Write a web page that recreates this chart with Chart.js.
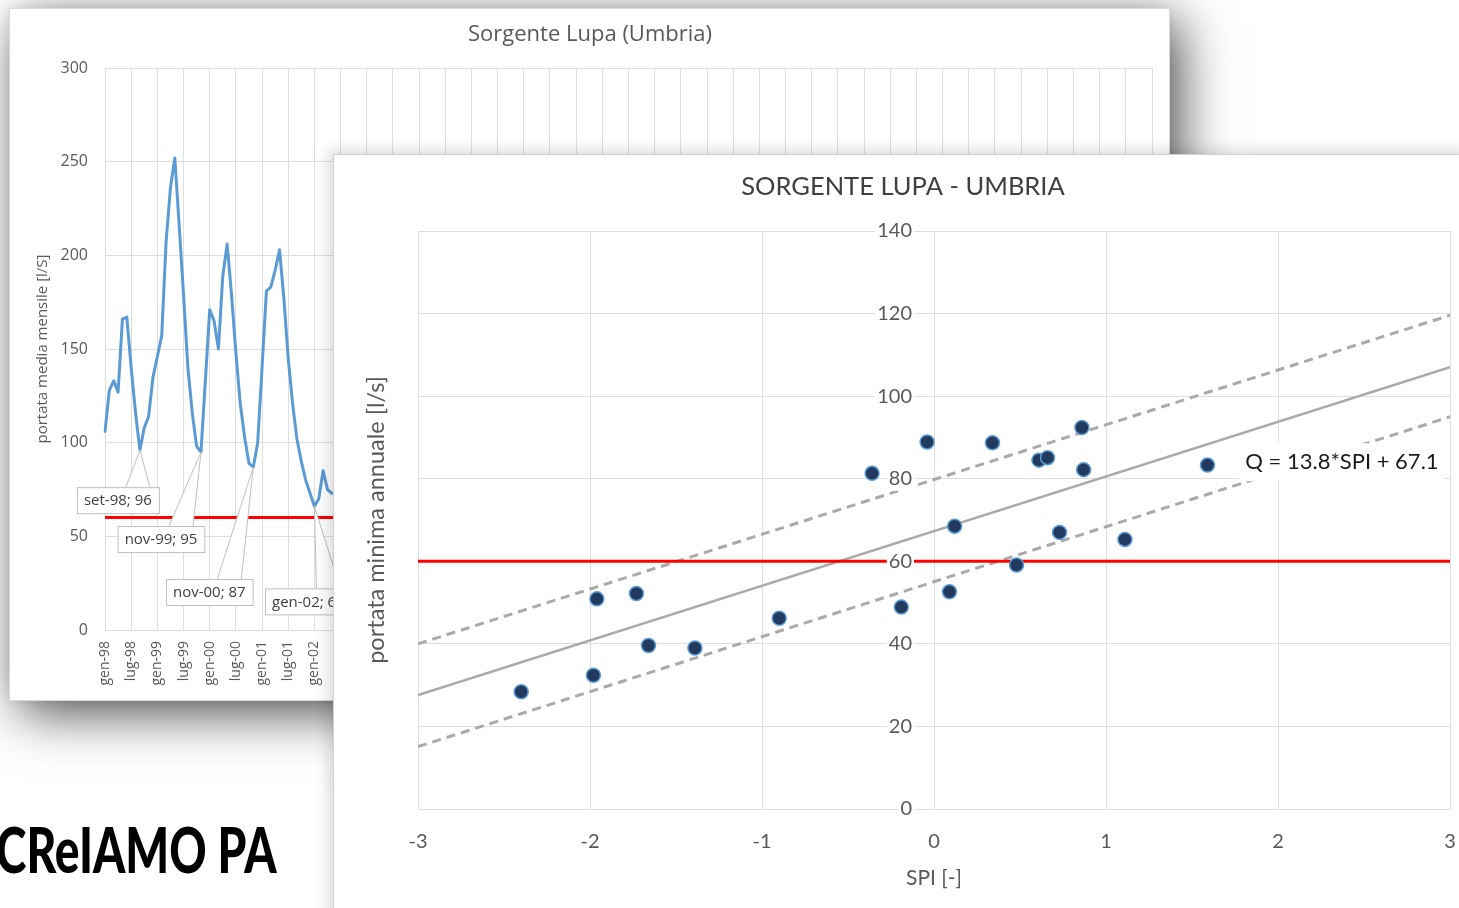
<!DOCTYPE html>
<html lang="it">
<head>
<meta charset="utf-8">
<title>Sorgente Lupa</title>
<script src="https://cdn.jsdelivr.net/npm/chart.js@4.4.1/dist/chart.umd.min.js"></script>
<style>
  html, body { margin: 0; padding: 0; background: #fff; }
  body { width: 1459px; height: 908px; overflow: hidden; position: relative; }
  #back {
    position: absolute; left: 10px; top: 9px; width: 1159px; height: 691px;
    background: #fff; outline: 1px solid #d9d9d9;
    box-shadow: 10px 12px 50px rgba(0,0,0,0.72), 0 0 10px rgba(0,0,0,0.08);
  }
  #front {
    position: absolute; left: 334px; top: 155px; width: 1140px; height: 770px;
    background: #fff; outline: 1px solid #d0d0d0;
    box-shadow: -5px -4px 14px rgba(0,0,0,0.16);
  }
  canvas { position: absolute; left: 0; top: 0; }
  #logo {
    position: absolute; left: -4px; top: 818px; margin: 0;
    font-family: Lato, sans-serif; font-weight: 900; font-size: 62px; line-height: 1;
    color: #000; transform: scaleX(0.744); transform-origin: 0 0; white-space: nowrap;
  }
</style>
</head>
<body>
<div id="back"><canvas id="cBack" width="1159" height="691"></canvas></div>
<div id="logo">CReIAMO PA</div>
<div id="front"><canvas id="cFront" width="1140" height="760"></canvas></div>

<script>
// --- grafico dietro: portata media mensile ---
const mesi = ['gen','feb','mar','apr','mag','giu','lug','ago','set','ott','nov','dic'];
const mesiLabels = [];
for (let a = 1998; a <= 2018; a++) {
  for (let m = 0; m < 12; m++) {
    if (mesiLabels.length < 241) mesiLabels.push(mesi[m] + '-' + String(a).slice(2));
  }
}
// valori (gen-98 .. mag-02), il resto e' coperto
const portataMensile = [106, 128, 133, 127, 166, 167, 140, 116, 96, 108, 114, 135,
                        146, 157, 207, 236, 252, 216, 179, 140, 116, 98, 95, 133,
                        171, 165, 150, 189, 206, 179, 148, 121, 103, 89, 87, 100,
                        140, 181, 183, 192, 203, 177, 145, 121, 102, 90, 80, 73,
                        66, 70, 85, 75, 73];
const sogliaBack = 60;
const calloutMesi = [8, 22, 34, 48];

// --- grafico davanti: portata minima annuale vs SPI ---
const spi  = [-2.40, -1.98, -1.96, -1.73, -1.66, -1.39, -0.90, -0.36, -0.19, -0.04, 0.09,
               0.12,  0.34,  0.48,  0.61,  0.66,  0.73,  0.86,  0.87,  1.11,  1.59];
const qmin = [28.4, 32.4, 50.9, 52.2, 39.6, 39.0, 46.2, 81.3, 48.9, 88.9, 52.6,
              68.5, 88.7, 59.1, 84.5, 85.1, 67.0, 92.4, 82.2, 65.3, 83.3];
const rettaX  = [-3, 3];
const rettaY  = [27.6, 107.0];
const limSupY = [40.0, 119.6];
const limInfY = [15.1, 95.0];
const sogliaFront = 60;
const equazione = 'Q = 13.8*SPI + 67.1';

const grigioTesto = '#595959';
const grigioGriglia = '#dedede';
const grigioRetta = '#aaaaaa';

// callout tipo Excel (etichette dati)
const calloutPlugin = {
  id: 'callouts',
  afterDatasetsDraw(chart, args, opts) {
    const ctx = chart.ctx;
    const meta = chart.getDatasetMeta(0);
    ctx.save();
    ctx.font = '15px "Open Sans"';
    calloutMesi.forEach((idx, k) => {
      const pt = meta.data[idx];
      if (!pt) return;
      const text = mesiLabels[idx] + '; ' + portataMensile[idx];
      const w = ctx.measureText(text).width + 14, h = 26;
      const cx = pt.x + opts.dx[k], cy = pt.y + opts.dy[k];
      const top = cy - h / 2;
      // punta
      ctx.beginPath();
      ctx.moveTo(cx + 8, top);
      ctx.lineTo(pt.x, pt.y);
      ctx.lineTo(cx + 32, top);
      ctx.closePath();
      ctx.fillStyle = '#fff';
      ctx.fill();
      ctx.beginPath();
      ctx.moveTo(cx + 8, top);
      ctx.lineTo(pt.x, pt.y);
      ctx.lineTo(cx + 32, top);
      ctx.strokeStyle = '#bfbfbf';
      ctx.lineWidth = 1;
      ctx.stroke();
      // riquadro
      ctx.fillRect(cx - w / 2, top, w, h);
      ctx.strokeRect(cx - w / 2 + 0.5, top + 0.5, w, h);
      ctx.fillStyle = '#404040';
      ctx.textAlign = 'center';
      ctx.textBaseline = 'middle';
      ctx.fillText(text, cx, cy + 1);
    });
    ctx.restore();
  }
};

// equazione della retta con fondo bianco
const equazionePlugin = {
  id: 'equazione',
  afterDatasetsDraw(chart, args, opts) {
    const ctx = chart.ctx;
    const x = chart.scales.x.getPixelForValue(opts.x);
    const y = chart.scales.y.getPixelForValue(opts.y);
    ctx.save();
    ctx.font = '22px Lato';
    const w = ctx.measureText(equazione).width;
    ctx.fillStyle = '#fff';
    ctx.fillRect(x - 7, y - 19, w + 12, 38);
    ctx.fillStyle = '#1a1a1a';
    ctx.textBaseline = 'middle';
    ctx.fillText(equazione, x, y);
    ctx.restore();
  }
};

new Chart(document.getElementById('cBack'), {
  type: 'line',
  data: {
    labels: mesiLabels,
    datasets: [
      { data: portataMensile, borderColor: '#5b9bd5', borderWidth: 3, pointRadius: 0, tension: 0,
        borderJoinStyle: 'round', borderCapStyle: 'round' },
      { data: mesiLabels.map(() => sogliaBack), borderColor: '#ff0000', borderWidth: 3, pointRadius: 0 }
    ]
  },
  options: {
    responsive: false,
    animation: false,
    layout: { padding: { left: 18, right: 17, top: 0, bottom: 12 } },
    plugins: {
      legend: { display: false },
      tooltip: { enabled: false },
      title: {
        display: true, text: 'Sorgente Lupa (Umbria)', color: grigioTesto,
        font: { family: 'Open Sans', size: 22, weight: 'normal' },
        padding: { top: 12.8, bottom: 19.8 }
      },
      callouts: { dx: [-22, -40, -44, -6], dy: [50, 87, 125, 95] }
    },
    scales: {
      x: {
        offset: false,
        border: { display: false },
        grid: {
          drawTicks: false, offset: false,
          color: c => (c.index % 6 === 0 ? grigioGriglia : 'rgba(0,0,0,0)')
        },
        ticks: {
          autoSkip: false, minRotation: 90, maxRotation: 90, padding: 11,
          color: grigioTesto, font: { family: 'Open Sans', size: 14 },
          callback: (v, i) => (i % 6 === 0 ? mesiLabels[i] : '')
        },
        afterFit: s => { s.height = 58; s.paddingLeft = 0; s.paddingRight = 0; }
      },
      y: {
        min: 0, max: 300,
        border: { display: false },
        grid: { color: grigioGriglia, drawTicks: false },
        ticks: { stepSize: 50, padding: 17, color: grigioTesto, font: { family: 'Open Sans', size: 16 } },
        title: {
          display: true, text: 'portata media mensile [l/S]', color: grigioTesto,
          font: { family: 'Open Sans', size: 15 }, padding: { top: 6, bottom: 0 }
        },
        afterFit: s => { s.width = 77; }
      }
    }
  },
  plugins: [calloutPlugin]
});

new Chart(document.getElementById('cFront'), {
  type: 'scatter',
  data: {
    datasets: [
      {
        data: spi.map((s, i) => ({ x: s, y: qmin[i] })),
        backgroundColor: '#223a5e', borderColor: '#5b9bd5', borderWidth: 1.5,
        pointRadius: 7
      },
      {
        data: rettaX.map(s => ({ x: s, y: sogliaFront })),
        showLine: true, borderColor: '#ff0000', borderWidth: 3, pointRadius: 0
      },
      {
        data: rettaX.map((s, i) => ({ x: s, y: rettaY[i] })),
        showLine: true, borderColor: grigioRetta, borderWidth: 2.5, pointRadius: 0
      },
      {
        data: rettaX.map((s, i) => ({ x: s, y: limSupY[i] })),
        showLine: true, borderColor: grigioRetta, borderWidth: 3, borderDash: [9, 6], pointRadius: 0
      },
      {
        data: rettaX.map((s, i) => ({ x: s, y: limInfY[i] })),
        showLine: true, borderColor: grigioRetta, borderWidth: 3, borderDash: [9, 6], pointRadius: 0
      }
    ]
  },
  options: {
    responsive: false,
    animation: false,
    layout: { padding: { left: 22, right: 24, top: 0, bottom: 0 } },
    plugins: {
      legend: { display: false },
      tooltip: { enabled: false },
      title: {
        display: true, text: 'SORGENTE LUPA - UMBRIA', color: '#404040',
        font: { family: 'Lato', size: 25.5, weight: 'normal' },
        padding: { top: 16.7, bottom: 28.7 }
      },
      equazione: { x: 1.81, y: 84 }
    },
    scales: {
      x: {
        type: 'linear', position: 'bottom', min: -3, max: 3,
        border: { display: false },
        grid: { color: grigioGriglia, drawTicks: false },
        ticks: { stepSize: 1, padding: 21, color: grigioTesto, font: { family: 'Lato', size: 20 } },
        title: {
          display: true, text: 'SPI [-]', color: grigioTesto,
          font: { family: 'Lato', size: 21 }, padding: { top: 11.4, bottom: 24.4 }
        },
        afterFit: s => { s.height = 106; s.paddingLeft = 0; s.paddingRight = 0; }
      },
      y: {
        type: 'linear', position: { x: -0.128 }, min: 0, max: 140,
        border: { display: false },
        grid: { color: grigioGriglia, drawTicks: false },
        ticks: {
          stepSize: 20, color: grigioTesto, font: { family: 'Lato', size: 20 },
          showLabelBackdrop: true, backdropColor: '#fff', backdropPadding: { x: 2, y: 0 }, z: 1
        }
      },
      yt: {
        type: 'linear', position: 'left', min: 0, max: 140,
        grid: { display: false }, border: { display: false },
        ticks: { display: false },
        title: {
          display: true, text: 'portata minima annuale [l/s]', color: grigioTesto,
          font: { family: 'Lato', size: 23.5 }, padding: { top: 5.9, bottom: 0 }
        },
        afterFit: s => { s.width = 62; }
      }
    }
  },
  plugins: [equazionePlugin]
});
</script>
</body>
</html>
